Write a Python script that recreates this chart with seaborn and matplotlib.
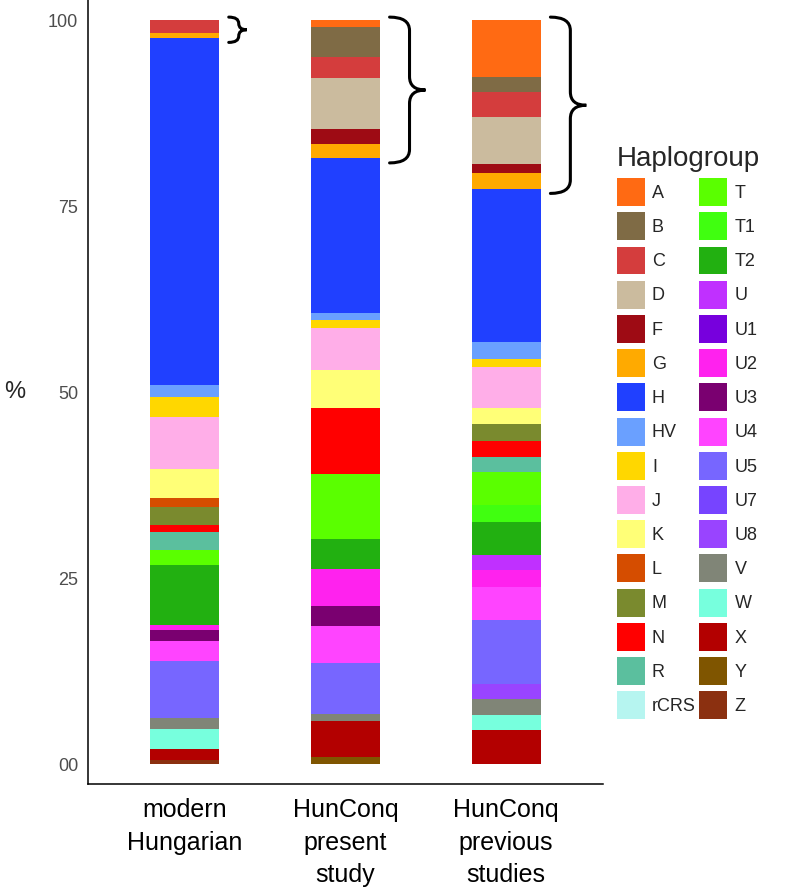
import matplotlib
matplotlib.use("Agg")
import matplotlib.pyplot as plt
from matplotlib.patches import Patch, PathPatch
from matplotlib.path import Path
import seaborn as sns
import pandas as pd

# haplogroup levels (legend order, first level stacked on top)
haplogroups = ["A", "B", "C", "D", "F", "G", "H", "HV", "I", "J", "K", "L", "M", "N", "R", "rCRS",
               "T", "T1", "T2", "U", "U1", "U2", "U3", "U4", "U5", "U7", "U8", "V", "W", "X", "Y", "Z"]
colours = ["#ff6a13", "#7f6b45", "#d43d3d", "#cbbb9e", "#9e0b14", "#ffaa00", "#2040ff", "#6aa0ff",
           "#ffd700", "#ffaee8", "#ffff77", "#d54d00", "#7a8a2e", "#ff0000", "#5bbf9e", "#b6f5f0",
           "#5aff00", "#40ff10", "#22b011", "#c030ff", "#7700dd", "#ff22ee", "#7a0070", "#ff44ff",
           "#7766ff", "#7744ff", "#9944ff", "#808577", "#77ffdd", "#b30000", "#7f5500", "#8b3010"]

studies = ["modern\nHungarian", "HunConq\npresent\nstudy", "HunConq\nprevious\nstudies"]

modern = [0, 0, 1.7, 0, 0, 0.7, 46.7, 1.5, 2.8, 7.0, 3.9, 1.1, 2.5, 0.9, 2.4, 0,
          2.1, 0, 8.0, 0, 0, 0.7, 1.5, 2.7, 7.6, 0, 0, 1.5, 2.7, 1.5, 0, 0.5]
present = [0.9, 4.0, 2.9, 6.9, 1.9, 2.0, 20.8, 0.9, 1.1, 5.7, 5.1, 0, 0, 8.8, 0, 0,
           8.8, 0, 4.0, 0, 0, 4.9, 2.8, 4.9, 6.9, 0, 0, 0.9, 0, 4.9, 0.9, 0]
previous = [7.7, 2.0, 3.3, 6.4, 1.2, 2.1, 20.6, 2.3, 1.1, 5.5, 2.1, 0, 2.3, 2.1, 2.1, 0,
            4.4, 2.3, 4.4, 2.0, 0, 2.3, 0, 4.4, 8.6, 0, 2.1, 2.1, 2.0, 4.6, 0, 0]

# groups marked with a brace (A..G)
n_braced = 6

rows = []
for study, vals in zip(studies, [modern, present, previous]):
    for h, v in zip(haplogroups, vals):
        rows.append({"study": study, "haplogroup": h, "pct": v})
df = pd.DataFrame(rows)

sns.set_style("white")
plt.rcParams["font.family"] = ["Liberation Sans", "DejaVu Sans"]

fig = plt.figure(figsize=(7.93, 8.89), dpi=100)
ax = fig.add_axes([0.111, 0.118, 0.649, 0.882])

sns.histplot(data=df, x="study", hue="haplogroup", weights="pct", multiple="stack",
             discrete=True, shrink=0.43, hue_order=haplogroups,
             palette=dict(zip(haplogroups, colours)), alpha=1, linewidth=0,
             legend=False, ax=ax)

ax.set_xlim(-0.6, 2.6)
ax.set_ylim(-2.7, 102.7)
ax.set_xticks(range(len(studies)))
ax.set_xticklabels(studies, fontsize=18, color="black", linespacing=1.45)
ax.set_yticks([0, 25, 50, 75, 100])
ax.set_yticklabels(["00", "25", "50", "75", "100"])
ax.tick_params(axis="y", length=4, width=1, color="#333333", labelcolor="#4d4d4d",
               labelsize=13, pad=3)
ax.tick_params(axis="x", length=5, width=1, color="#333333", pad=5)
ax.set_xlabel("")
ax.set_ylabel("%", rotation=0, fontsize=17, ha="center", va="center")
ax.yaxis.set_label_coords(-0.142, 0.5)

for s in ["top", "right"]:
    ax.spines[s].set_visible(False)
for s in ["left", "bottom"]:
    ax.spines[s].set_color("black")
    ax.spines[s].set_linewidth(1.1)

# curly braces next to each bar, spanning the top groups
for i, vals in enumerate([modern, present, previous]):
    span = sum(vals[:n_braced])
    y1 = 100.4
    y0 = 100 - span - 0.6
    ym = (y0 + y1) / 2
    w = 0.124 if span > 5 else 0.062
    x0 = i + 0.43 / 2 + 0.06
    xm = x0 + w
    xt = xm + w * 0.8
    r = min(1.8, (y1 - y0) / 4)
    verts = [(x0, y1), (xm, y1), (xm, y1 - r), (xm, ym + r), (xm, ym), (xt, ym),
             (xm, ym), (xm, ym - r), (xm, y0 + r), (xm, y0), (x0, y0)]
    codes = [Path.MOVETO, Path.CURVE3, Path.CURVE3, Path.LINETO, Path.CURVE3, Path.CURVE3,
             Path.CURVE3, Path.CURVE3, Path.LINETO, Path.CURVE3, Path.CURVE3]
    ax.add_patch(PathPatch(Path(verts, codes), fill=False, lw=2.2, edgecolor="black",
                           capstyle="round", clip_on=False))

handles = [Patch(facecolor=c, edgecolor="none", label=h) for h, c in zip(haplogroups, colours)]
leg = fig.legend(handles=handles, ncol=2, loc="upper left",
                 bbox_to_anchor=(0.778, 0.836), frameon=False, fontsize=13,
                 title="Haplogroup", title_fontsize=20, alignment="left",
                 handlelength=1.55, handleheight=2.0, labelspacing=0.35,
                 handletextpad=0.39, columnspacing=0.2, borderpad=0, borderaxespad=0)

fig.savefig("out.png", dpi=100)
